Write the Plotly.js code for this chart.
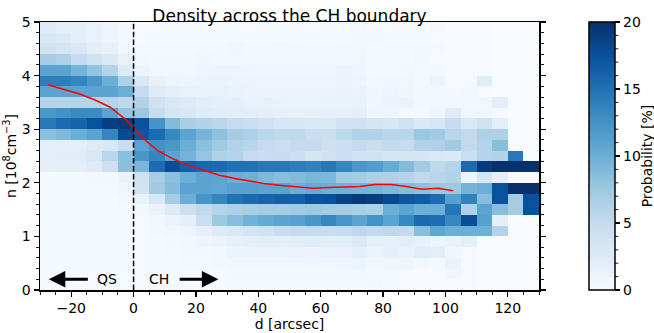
<!DOCTYPE html>
<html>
<head>
<meta charset="utf-8">
<script src="https://cdn.plot.ly/plotly-3.0.1.min.js"></script>
<style>
  html, body { margin: 0; padding: 0; background: #ffffff; }
  #chart { width: 654px; height: 333px; }
</style>
</head>
<body>
<div id="chart"></div>
<script>
// ---- Data ----
// bin centres of distance d [arcsec]
const dCenters = [-27.5, -22.5, -17.5, -12.5, -7.5, -2.5, 2.5, 7.5, 12.5, 17.5, 22.5,
  27.5, 32.5, 37.5, 42.5, 47.5, 52.5, 57.5, 62.5, 67.5, 72.5, 77.5, 82.5, 87.5,
  92.5, 97.5, 102.5, 107.5, 112.5, 117.5, 122.5, 127.5];
// bin centres of density n [1e8 cm^-3]
const nCenters = [0.1, 0.3, 0.5, 0.7, 0.9, 1.1, 1.3, 1.5, 1.7, 1.9, 2.1, 2.3, 2.5,
  2.7, 2.9, 3.1, 3.3, 3.5, 3.7, 3.9, 4.1, 4.3, 4.5, 4.7, 4.9];

// probability [%] per density row (one value per d bin)
const p00 = [0.2,0.2,0.2,0.2,0.2,0.2, 0.2,0.2,0.2,0.2,0.2, 0.2,0.2,0.2,0.2,0.3,0.3,0.3,0.3,0.3,0.3, 0.4,0.2,0.2,0.1,0.1,0.1,0.1, 0,0,0,0];
const p01 = [0.2,0.2,0.2,0.2,0.2,0.2, 0.2,0.2,0.2,0.2,0.2, 0.3,0.4,0.4,0.5,0.5,0.5,0.5,0.5,0.6,0.6, 0.3,0.3,0.3,0.2,0.2,0.8,0.1, 0,0,0,0];
const p02 = [0.2,0.2,0.2,0.2,0.2,0.2, 0.2,0.2,0.2,0.3,0.3, 0.4,0.6,0.6,0.7,0.7,0.8,0.8,0.8,0.9,1.0, 0.7,0.8,0.8,0.4,0.2,1.3,0.2, 0,0,0,0];
const p03 = [0.2,0.2,0.2,0.2,0.2,0.2, 0.2,0.2,0.3,0.4,0.5, 0.7,1.1,1.2,1.2,1.2,1.3,1.2,1.3,1.4,1.9, 1.3,1.8,1.4,2.2,2.0,0.8,0.2, 0,0,0,0];
const p04 = [0.2,0.2,0.2,0.2,0.2,0.2, 0.2,0.3,0.4,0.6,0.9, 1.1,1.6,1.9,2.1,1.9,2.1,2.3,2.0,2.2,2.8, 1.8,1.7,2.0,1.7,1.0,1.3,1.8, 0,0,0,0];
const p05 = [0.2,0.2,0.2,0.2,0.2,0.2, 0.2,0.4,0.7,1.0,1.9, 2.5,3.0,3.6,4.0,4.7,5.0,5.0,4.7,5.0,5.5, 5.1,5.5,5.1,8.6,10.7,10,10, 9.8,6.3,0,0];
const p06 = [0.2,0.2,0.2,0.2,0.2,0.2, 0.3,0.7,1.3,2.0,4.5, 7.5,8.6,9.6,10.3,11,11.2,12,13.3,12.2,11, 12.3,11,13.2,15.6,15.3,13.3,17.8, 11.2,1.8,0,0];
const p07 = [0.2,0.2,0.2,0.2,0.2,0.3, 0.5,1.3,2.5,4.3,5.3, 6.1,6.5,6.9,7.1,7.1,7.3,7.5,7.2,7.0,6.8, 6.6,10,11,10,10,14.6,6.5, 11,8.6,7.1,17.5];
const p08 = [0.2,0.2,0.2,0.2,0.2,0.5, 1.3,3.2,7.0,10,12.2, 13.5,15,15.6,16,16.3,16.3,17.3,17.5,18.7,19.3, 19,18,17,16.5,15.5,11.2,13.8, 8.6,17.5,7.1,17.5];
const p09 = [0.2,0.2,0.2,0.3,0.3,0.8, 3.8,7.3,8.7,11,11, 10.7,11.2,11.2,11,11,10,10.3,9.8,9.8,9.5, 9.4,9.0,8.6,8.3,7.7,7.5,9.5, 10,17.5,20,20];
const p10 = [0.3,0.3,0.3,0.4,0.5,1.2, 4.0,7.0,8.5,10,11, 10.8,10,9.8,9,8.6,8.8,9.3,9.2,7.3,7.1, 6.6,6.4,6.1,5.3,5.9,6.2,1.0, 3.4,1.8,0,0];
const p11 = [1.8,2.0,2.0,2.5,4.3,8.5, 9.3,15.5,17.8,16.3,15.8, 15.6,15,15,14.5,14.5,14,13.8,14.5,13.5,12, 11.5,10.3,8.8,7.2,5.5,6.1,15.5, 19.2,20,20,20];
const p12 = [2.0,2.3,2.3,3.0,5.8,8.5, 12,13.5,11,9.5,8.0, 6.5,6,5,4.7,4.8,4.5,3.5,4,4.5,4, 4,3.4,3.4,3.5,3,2.8,4.4, 6,6.2,14.5,0];
const p13 = [2,2,2,2.5,3,4.7, 11,12.5,12,10,8.5, 7.3,6.3,5.8,5,4.6,5,5,4.3,4.4,5.1, 4.5,5.1,4.9,6.3,6.4,7.3,5.2, 6,8.6,0,0];
const p14 = [8.5,9,10,11,13.5,18, 17,15.5,13.2,11,9.5, 8.3,7.1,6.5,5.8,5.3,5.3,4.5,4.4,5.5,6.3, 6.3,5.9,5.9,7.7,7.3,5.8,5.2, 6.5,6.5,0,0];
const p15 = [14.5,15.5,16,17.5,19,19.3, 17.5,12.3,8.8,6.8,6.3, 5.8,5,4.5,4,3.3,3.2,3,3,4,4, 3.4,3.2,4,3,3.3,4.9,3, 4,2,0,0];
const p16 = [12,12.5,13,13,11,8, 7.7,4.7,3.5,3,2.3, 2.3,2,2,1.9,1.7,1.6,1.6,1.7,1.7,1.8, 0.9,0.9,0.5,0.4,0.9,2.4,0.8, 0.8,0.3,0,0];
const p17 = [6,6,6,6,6,5.5, 6.3,4,3,2.5,2.1, 1.7,1.8,1.6,1.5,1.4,1.3,1.3,1.4,1.4,1.5, 0.8,1.2,1.1,0.6,0.7,0.6,0.6, 0.6,2,0,0];
const p18 = [11,11,11,11,11,10, 5,2.5,2,1.6,1.6, 1.6,1.4,1.3,1.2,1.2,1.1,1.1,1.3,1.5,1.3, 0.8,1.0,0.8,0.4,0.4,0.4,0.6, 0.2,0,0,0];
const p19 = [14,14,13.5,12,10,6.5, 3,1.5,1.1,1,1.2, 1.3,1.2,1.1,1,1,1,1,1,1.2,1.0, 0.5,0.6,0.7,0.3,1.1,0.1,0.1, 2.3,0,0,0];
const p20 = [11,11,9.5,8,6,2.5, 1,0.7,0.6,0.6,1.0, 1.0,1.0,0.9,0.8,0.8,0.8,0.8,0.8,1.1,0.9, 0.3,0.3,0.4,0.3,0.5,0.2,0.1, 0.1,0,0,0];
const p21 = [7,6.5,5,4,3,1.5, 0.7,0.5,0.5,0.5,0.8, 0.7,0.7,0.6,0.6,0.6,0.6,0.6,0.6,0.6,0.6, 0.2,0.2,0.2,0.4,0.2,0.1,0.1, 0.1,0,0,0];
const p22 = [4,3.5,3,2,1.5,0.7, 0.3,0.3,0.3,0.3,0.5, 0.4,0.8,0.4,0.4,0.7,0.4,0.4,0.4,0.4,0.5, 0.2,0.3,0.3,0.5,0.5,0.1,0.1, 0.1,0,0,0];
const p23 = [3,2.5,2,1.5,1,0.5, 0.2,0.2,0.2,0.2,0.2, 0.2,0.2,0.2,0.2,0.2,0.3,0.2,0.2,0.3,0.5, 0.5,0.2,0.2,0.2,0.2,0.1,0.1, 0.1,0,0,0];
const p24 = [2.5,2,2,1.5,1,0.5, 0.2,0.2,0.2,0.2,0.2, 0.2,0.2,0.2,0.2,0.2,0.2,0.2,0.2,0.2,0.4, 0.1,0.1,0.1,0.1,0.4,0.1,0.1, 0.1,0,0,0];

// mean density curve (red)
const meanD = [-27.5, -22.5, -17.5, -12.5, -7.5, -2.5, 2.5, 7.5, 12.5, 17.5, 22.5, 27.5,
  32.5, 37.5, 42.5, 47.5, 52.5, 57.5, 62.5, 67.5, 72.5, 77.5, 82.5, 87.5, 92.5, 97.5, 102.5];
const meanN = [3.83, 3.75, 3.66, 3.55, 3.41, 3.18, 2.86, 2.61, 2.45, 2.33, 2.23, 2.14,
  2.08, 2.03, 1.98, 1.95, 1.92, 1.90, 1.91, 1.92, 1.93, 1.97, 1.97, 1.93, 1.88, 1.90, 1.85];

const xTicks = [-20, 0, 20, 40, 60, 80, 100, 120];
const yTicks = [0, 1, 2, 3, 4, 5];
const cbTicks = [0, 5, 10, 15, 20];

// ---- Build figure ----
const probGrid = [p00,p01,p02,p03,p04,p05,p06,p07,p08,p09,p10,p11,p12,p13,p14,p15,p16,p17,p18,p19,p20,p21,p22,p23,p24];

const blues = [
  [0.0, '#f7fbff'], [0.125, '#deebf7'], [0.25, '#c6dbef'], [0.375, '#9ecae1'],
  [0.5, '#6baed6'], [0.625, '#4292c6'], [0.75, '#2171b5'], [0.875, '#08519c'], [1.0, '#08306b']
];

const FONT = 'DejaVu Sans, Liberation Sans, sans-serif';
const ML = 40, MR = 115.3;
const plotW = 654 - ML - MR;
const cbX = (589 - ML) / plotW;
const cbRight = cbX + 26 / plotW;

const heat = {
  type: 'heatmap',
  x: dCenters,
  y: nCenters,
  z: probGrid,
  zmin: 0, zmax: 20,
  colorscale: blues,
  hoverinfo: 'skip',
  colorbar: {
    x: cbX, xanchor: 'left', xpad: 0, ypad: 0,
    y: 0.5, yanchor: 'middle', len: 1, lenmode: 'fraction',
    thickness: 26, thicknessmode: 'pixels',
    outlinewidth: 1.5, outlinecolor: '#000',
    tickvals: cbTicks, ticks: 'outside', ticklen: 5, tickwidth: 1.2, tickcolor: '#000',
    tickfont: {family: FONT, size: 14, color: '#000'}
  }
};

const meanLine = {
  type: 'scatter', mode: 'lines',
  x: meanD, y: meanN,
  line: {color: '#ff0000', width: 1.5},
  hoverinfo: 'skip', showlegend: false
};

// colorbar minor ticks (every 1 %)
const shapes = [];
for (let v = 1; v < 20; v++) {
  if (v % 5 === 0) continue;
  shapes.push({type: 'line', xref: 'paper', yref: 'paper',
    x0: cbRight, x1: cbRight + 3 / plotW, y0: v / 20, y1: v / 20,
    line: {color: '#000', width: 0.9}});
}
// boundary line
shapes.push({type: 'line', xref: 'x', yref: 'y', x0: 0, x1: 0, y0: 0, y1: 5,
  line: {color: '#000', width: 1.5, dash: '5.5px,2.4px'}});

const annotations = [
  {xref: 'x', yref: 'y', axref: 'x', ayref: 'y', x: -27.2, y: 0.2, ax: -8.4, ay: 0.2,
   text: 'QS', showarrow: true, arrowhead: 2, arrowsize: 1.1, arrowwidth: 3, arrowcolor: '#000',
   standoff: 0, startstandoff: 8, font: {family: FONT, size: 14, color: '#000'}},
  {xref: 'x', yref: 'y', axref: 'x', ayref: 'y', x: 27.2, y: 0.2, ax: 8.2, ay: 0.2,
   text: 'CH', showarrow: true, arrowhead: 2, arrowsize: 1.1, arrowwidth: 3, arrowcolor: '#000',
   standoff: 0, startstandoff: 9, font: {family: FONT, size: 14, color: '#000'}},
  {xref: 'paper', yref: 'paper', x: (647 - ML) / plotW, y: 0.5, xanchor: 'center', yanchor: 'middle',
   text: 'Probability [%]', textangle: -90, showarrow: false,
   font: {family: FONT, size: 14, color: '#000'}}
];

const layout = {
  width: 654, height: 333,
  margin: {l: ML, r: MR, t: 22, b: 43, pad: 0},
  paper_bgcolor: '#ffffff', plot_bgcolor: '#ffffff',
  font: {family: FONT, size: 14, color: '#000'},
  showlegend: false,
  title: {text: 'Density across the CH boundary', x: 0.5, xref: 'paper',
    y: 1, yref: 'paper', yanchor: 'bottom', pad: {b: 0},
    font: {family: FONT, size: 17, color: '#000'}},
  xaxis: {
    range: [-30, 130], autorange: false, automargin: false,
    tickvals: xTicks, ticks: 'outside', ticklen: 5, tickwidth: 1.2, tickcolor: '#000',
    minor: {dtick: 5, tick0: 0, ticks: 'outside', ticklen: 3, tickwidth: 0.9, tickcolor: '#000'},
    showline: true, linecolor: '#000', linewidth: 1.5, mirror: true,
    showgrid: false, zeroline: false,
    tickfont: {family: FONT, size: 14, color: '#000'},
    title: {text: 'd [arcsec]', standoff: 3, font: {family: FONT, size: 14, color: '#000'}}
  },
  yaxis: {
    range: [0, 5], autorange: false, automargin: false,
    tickvals: yTicks, ticks: 'outside', ticklen: 5, tickwidth: 1.2, tickcolor: '#000',
    minor: {dtick: 0.2, tick0: 0, ticks: 'outside', ticklen: 3, tickwidth: 0.9, tickcolor: '#000'},
    showline: true, linecolor: '#000', linewidth: 1.5, mirror: 'allticks',
    showgrid: false, zeroline: false,
    tickfont: {family: FONT, size: 14, color: '#000'},
    title: {text: 'n [10<sup>8</sup>cm<sup>−3</sup>]', standoff: 2, font: {family: FONT, size: 14, color: '#000'}}
  },
  shapes: shapes,
  annotations: annotations
};

Plotly.newPlot('chart', [heat, meanLine], layout, {displayModeBar: false, staticPlot: true});
</script>
</body>
</html>
